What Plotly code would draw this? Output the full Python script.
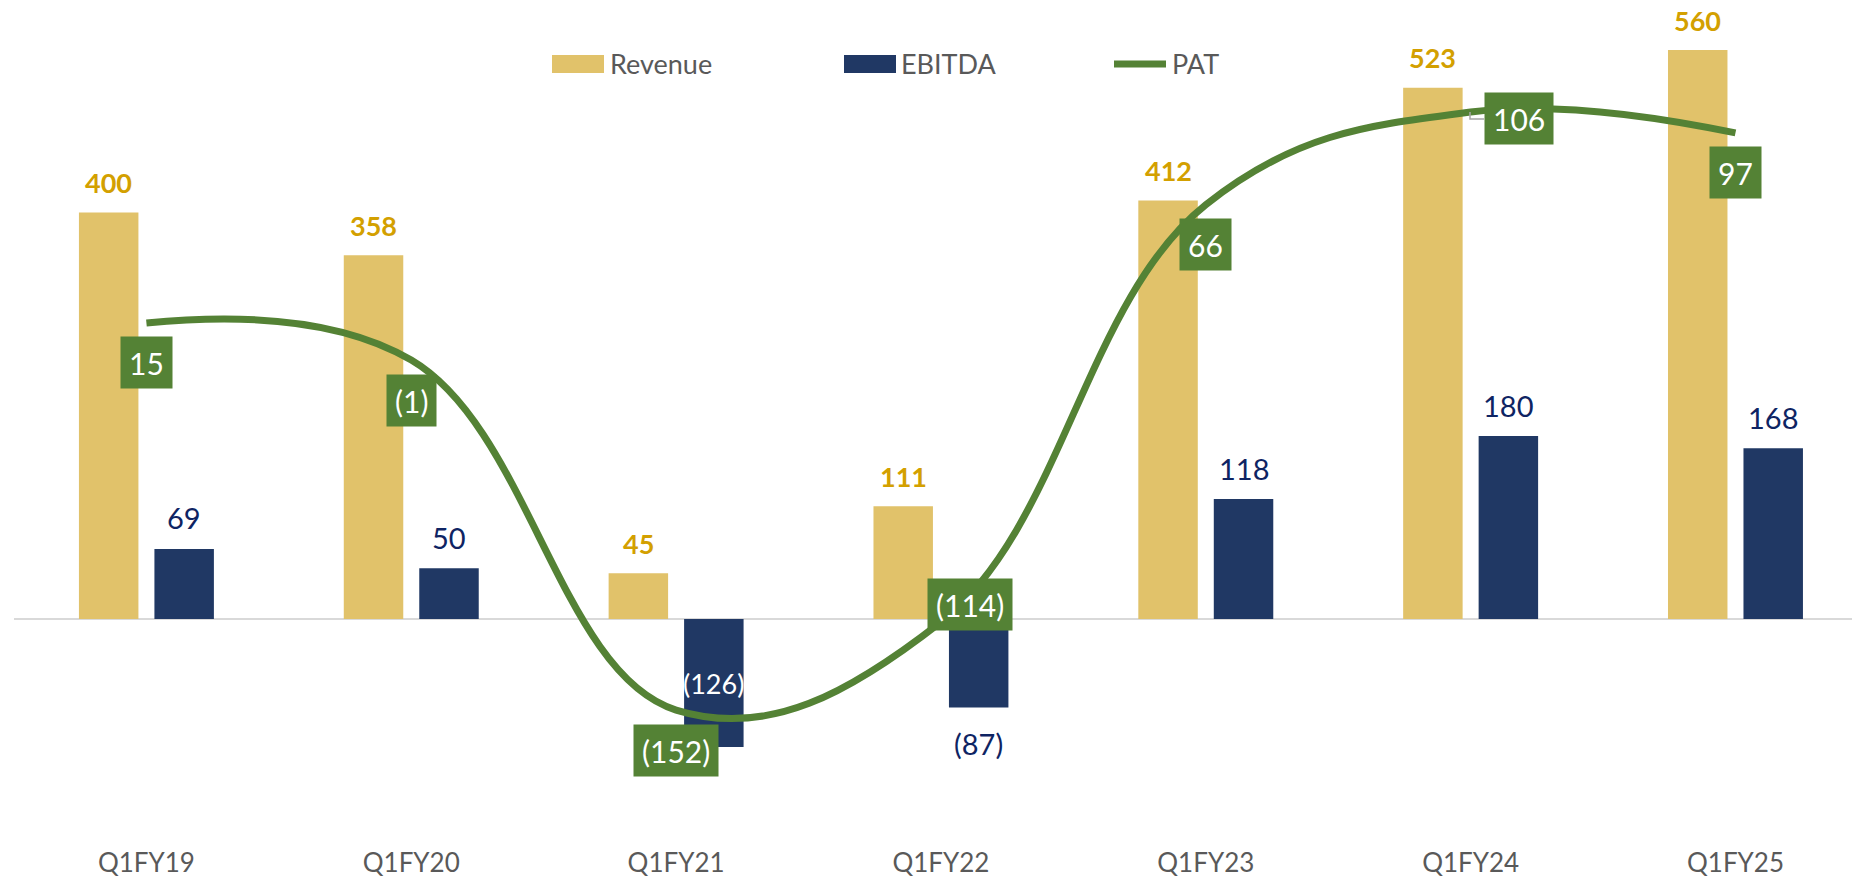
import plotly.graph_objects as go

# ---- data ----
categories = ["Q1FY19", "Q1FY20", "Q1FY21", "Q1FY22", "Q1FY23", "Q1FY24", "Q1FY25"]
revenue = [400, 358, 45, 111, 412, 523, 560]
ebitda = [69, 50, -126, -87, 118, 180, 168]
pat = [15, -1, -152, -114, 66, 106, 97]

# ---- layout geometry / styles ----
W, H = 1852, 880
ML, MR, MT, MB = 14, 0, 0, 35
PW, PH = W - ML - MR, H - MT - MB
X_RANGE = [-0.5, 6.44]
Y1_RANGE = [-(PH - 619) / 1.016, 619 / 1.016]
Y2_RANGE = [-(PH - 357.7) / 2.318, 357.7 / 2.318]
BARGAP, BARGROUPGAP = 0.43, 0.212
CAT_PX = PW / (X_RANGE[1] - X_RANGE[0])
SLOT = (1 - BARGAP) / 2
REV_SHIFT = -SLOT / 2 * CAT_PX
EB_SHIFT = SLOT / 2 * CAT_PX

FONT = "Lato, 'Open Sans', sans-serif"
REV_COLOR, REV_LABEL = "#E1C26A", "#D3A000"
EB_COLOR, EB_LABEL = "#203864", "#0E2463"
PAT_COLOR = "#548235"
TXT_GREY = "#595959"


def fmt(v):
    return f"({abs(v)})" if v < 0 else f"{v}"


def px(xp, yp):
    return (xp - ML) / PW, 1 - (yp - MT) / PH


fig = go.Figure()
fig.add_trace(go.Bar(x=categories, y=revenue, name="Revenue",
                     marker=dict(color=REV_COLOR, line=dict(width=0)), showlegend=False))
fig.add_trace(go.Bar(x=categories, y=ebitda, name="EBITDA",
                     marker=dict(color=EB_COLOR, line=dict(width=0)), showlegend=False))
fig.add_trace(go.Scatter(x=categories, y=pat, name="PAT", yaxis="y2", mode="lines",
                         line=dict(color=PAT_COLOR, width=7, shape="spline", smoothing=1.15),
                         showlegend=False))

ann = []
# revenue labels
for c, v in zip(categories, revenue):
    ann.append(dict(x=c, y=v, xref="x", yref="y", text=f"<b>{fmt(v)}</b>", showarrow=False,
                    xshift=REV_SHIFT, yshift=30, yanchor="middle",
                    font=dict(family=FONT, size=27, color=REV_LABEL)))
# ebitda labels
for c, v in zip(categories, ebitda):
    if v >= 0:
        ann.append(dict(x=c, y=v, xref="x", yref="y", text=fmt(v), showarrow=False,
                        xshift=EB_SHIFT, yshift=31, yanchor="middle",
                        font=dict(family=FONT, size=29, color=EB_LABEL)))
    elif v < -100:
        ann.append(dict(x=c, y=v / 2, xref="x", yref="y", text=fmt(v), showarrow=False,
                        xshift=EB_SHIFT, yanchor="middle",
                        font=dict(family=FONT, size=27, color="white")))
    else:
        ann.append(dict(x=c, y=v, xref="x", yref="y", text=fmt(v), showarrow=False,
                        xshift=EB_SHIFT, yshift=-36, yanchor="middle",
                        font=dict(family=FONT, size=29, color=EB_LABEL)))
# PAT labels (boxed)
pat_shift = {3: (29, 17), 5: (48, -7)}
for i, (c, v) in enumerate(zip(categories, pat)):
    dx, dy = pat_shift.get(i, (0, -40))
    ann.append(dict(x=c, y=v, xref="x", yref="y2", text=fmt(v), showarrow=False,
                    xshift=dx, yshift=dy, yanchor="middle", xanchor="center",
                    bgcolor=PAT_COLOR, borderpad=8, height=35,
                    font=dict(family=FONT, size=30, color="white")))

# custom legend
shapes = []
leg = [("Revenue", "bar", REV_COLOR, 552, 608),
       ("EBITDA", "bar", EB_COLOR, 844, 899),
       ("PAT", "line", PAT_COLOR, 1114, 1170)]
for name, kind, col, x0, tx in leg:
    if kind == "bar":
        a = px(x0, 55)
        b = px(x0 + 52, 73)
        shapes.append(dict(type="rect", xref="paper", yref="paper", x0=a[0], y0=b[1], x1=b[0], y1=a[1],
                           fillcolor=col, line=dict(width=0)))
    else:
        a = px(x0, 64)
        b = px(x0 + 52, 64)
        shapes.append(dict(type="line", xref="paper", yref="paper", x0=a[0], y0=a[1], x1=b[0], y1=b[1],
                           line=dict(color=col, width=7)))
    t = px(tx, 64)
    ann.append(dict(x=t[0], y=t[1], xref="paper", yref="paper", text=name, showarrow=False,
                    xanchor="left", yanchor="middle",
                    font=dict(family=FONT, size=27, color=TXT_GREY)))

# small leader line for the 106 label
p0, p1, p2 = px(1470, 112), px(1470, 119), px(1484, 119)
shapes.append(dict(type="path", xref="paper", yref="paper",
                   path=f"M {p0[0]},{p0[1]} L {p1[0]},{p1[1]} L {p2[0]},{p2[1]}",
                   line=dict(color="#A6A6A6", width=1.5)))

fig.update_layout(
    width=W, height=H,
    margin=dict(l=ML, r=MR, t=MT, b=MB),
    paper_bgcolor="white", plot_bgcolor="white",
    barmode="group", bargap=BARGAP, bargroupgap=BARGROUPGAP,
    xaxis=dict(range=X_RANGE, showgrid=False, showline=False, ticks="",
               tickfont=dict(family=FONT, size=26, color=TXT_GREY)),
    yaxis=dict(range=Y1_RANGE, showgrid=False, showticklabels=False,
               zeroline=True, zerolinecolor="#D9D9D9", zerolinewidth=2),
    yaxis2=dict(range=Y2_RANGE, overlaying="y", side="right", showgrid=False,
                showticklabels=False, zeroline=False),
    annotations=ann, shapes=shapes,
)

fig.write_html("out.html", config={"displayModeBar": False},
               post_script="document.body.style.margin='0';document.body.style.overflow='hidden';")
